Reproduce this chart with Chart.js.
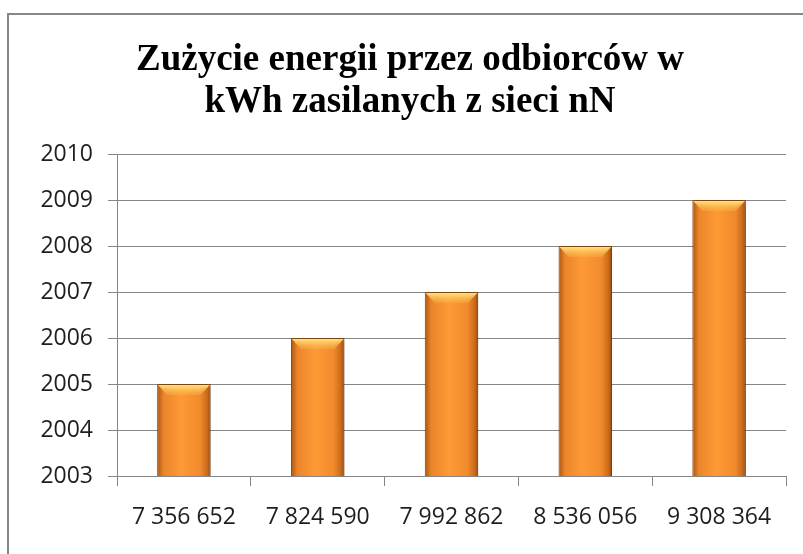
<!DOCTYPE html>
<html>
<head>
<meta charset="utf-8">
<script src="https://cdn.jsdelivr.net/npm/chart.js@4"></script>
<style>
  html, body { margin: 0; padding: 0; background: #fff; overflow: hidden; }
  #wrap { position: relative; width: 803px; height: 554px; }
  #frame { position: absolute; left: 7px; top: 13px; width: 900px; height: 700px; border: 2px solid #878787; }
  #chart { position: absolute; left: 0; top: 0; }
</style>
</head>
<body>
<div id="wrap">
  <div id="frame"></div>
  <canvas id="chart" width="803" height="554"></canvas>
</div>
<script>
const consumption = ["7 356 652", "7 824 590", "7 992 862", "8 536 056", "9 308 364"];
const years = [2005, 2006, 2007, 2008, 2009];
const yMin = 2003;
const yMax = 2010;
const titleLines = ["Zużycie energii przez odbiorców w", "kWh zasilanych z sieci nN"];

const barPct = 0.4;

// horizontal shading for each bar, built from the x scale
function barFill(ctx) {
  const chart = ctx.chart;
  const xs = chart.scales.x;
  if (!chart.chartArea || !xs || ctx.dataIndex === undefined) return "#f28c2c";
  const cx = xs.getPixelForValue(ctx.dataIndex);
  const half = (xs.width / consumption.length) * barPct / 2;
  if (!isFinite(cx) || !isFinite(half) || half <= 0) return "#f28c2c";
  const g = chart.ctx.createLinearGradient(cx - half, 0, cx + half, 0);
  g.addColorStop(0, "#a9550f");
  g.addColorStop(0.12, "#eb852b");
  g.addColorStop(0.45, "#fe9a36");
  g.addColorStop(0.8, "#f18a2c");
  g.addColorStop(0.94, "#c8691a");
  g.addColorStop(1, "#8c4610");
  return g;
}

const bevel = {
  id: "bevel",
  beforeDatasetsDraw(chart) {
    const c = chart.ctx;
    c.save();
    c.shadowColor = "rgba(0,0,0,0.28)";
    c.shadowBlur = 6;
    c.shadowOffsetX = 3;
    c.shadowOffsetY = 1;
  },
  afterDatasetsDraw(chart) {
    const c = chart.ctx;
    c.restore();
    const meta = chart.getDatasetMeta(0);
    meta.data.forEach(bar => {
      const l = bar.x - bar.width / 2 + 1;
      const r = bar.x + bar.width / 2 - 1;
      const t = bar.y + 1;
      const b = bar.base - 1;
      c.save();
      // top bevel
      let g = c.createLinearGradient(0, t, 0, t + 10);
      g.addColorStop(0, "rgba(255,228,125,1)");
      g.addColorStop(1, "rgba(255,190,80,0.25)");
      c.fillStyle = g;
      c.beginPath();
      c.moveTo(l, t);
      c.lineTo(r, t);
      c.lineTo(r - 9, t + 10);
      c.lineTo(l + 9, t + 10);
      c.closePath();
      c.fill();
      // darker toward the bottom
      g = c.createLinearGradient(0, t, 0, b);
      g.addColorStop(0, "rgba(120,50,0,0)");
      g.addColorStop(1, "rgba(120,50,0,0.16)");
      c.fillStyle = g;
      c.fillRect(l, t + 10, r - l, b - t - 10);
      // bottom bevel
      c.fillStyle = "rgba(110,50,5,0.2)";
      c.beginPath();
      c.moveTo(l, b);
      c.lineTo(r, b);
      c.lineTo(r - 8, b - 7);
      c.lineTo(l + 8, b - 7);
      c.closePath();
      c.fill();
      c.restore();
    });
  }
};

const tickFont = { family: "'Open Sans', 'DejaVu Sans', sans-serif", size: 23 };

new Chart(document.getElementById("chart"), {
  type: "bar",
  data: {
    labels: consumption,
    datasets: [{
      data: years,
      backgroundColor: barFill,
      borderColor: "#8a4a14",
      borderWidth: 1,
      categoryPercentage: 1,
      barPercentage: barPct
    }]
  },
  options: {
    responsive: false,
    animation: false,
    layout: { padding: { left: 34, right: 17, top: 0, bottom: 0 } },
    plugins: {
      legend: { display: false },
      tooltip: { enabled: false },
      title: {
        display: true,
        text: titleLines,
        color: "#000",
        font: { family: "'Liberation Serif', 'Times New Roman', serif", size: 37, weight: "bold", lineHeight: 42 / 37 },
        padding: { top: 39, bottom: 31 }
      }
    },
    scales: {
      x: {
        grid: { drawOnChartArea: false, drawTicks: true, tickLength: 10, color: "#868686" },
        border: { color: "#868686" },
        ticks: { color: "#1e1e1e", font: tickFont, padding: 18, maxRotation: 0 },
        afterFit(scale) { scale.height = 78; }
      },
      y: {
        min: yMin,
        max: yMax,
        grid: { color: "#868686", tickLength: 9 },
        border: { color: "#868686" },
        ticks: { stepSize: 1, color: "#1e1e1e", font: tickFont, padding: 15, callback: v => String(v) },
        afterFit(scale) { scale.width = 83; }
      }
    }
  },
  plugins: [bevel]
});
</script>
</body>
</html>
